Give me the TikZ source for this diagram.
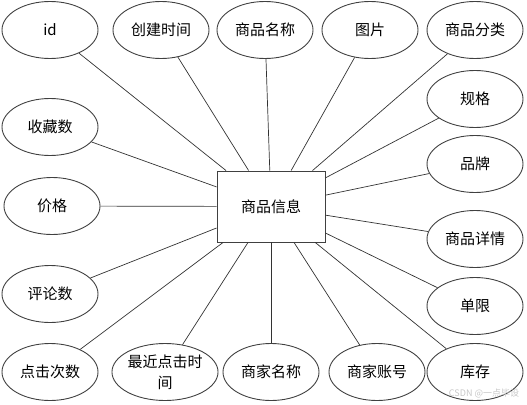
\documentclass[tikz,border=0pt]{standalone}
\usepackage{fontspec}
\setmainfont{Noto Sans CJK SC}
\usetikzlibrary{shapes.geometric}
\begin{document}
\begin{tikzpicture}[x=1pt,y=-1pt,
  attr/.style={draw=black!75,line width=0.9pt,ellipse,minimum width=96pt,minimum height=57pt,inner sep=0pt,font=\fontsize{15}{21}\selectfont,align=center},
  entity/.style={draw=black!75,line width=0.9pt,rectangle,minimum width=108pt,minimum height=71pt,inner sep=0pt,font=\fontsize{15}{17}\selectfont},
  link/.style={draw=black!80,line width=0.7pt}]
\useasboundingbox (0,0) rectangle (527,404);
\node[entity] (e) at (271,206.5) {商品信息};
\node[attr] (a1) at (50,30) {id};
\node[attr] (a2) at (161,30) {创建时间};
\node[attr] (a3) at (265,30) {商品名称};
\node[attr] (a4) at (370,30) {图片};
\node[attr] (a5) at (475,30) {商品分类};
\node[attr] (a6) at (475,99) {规格};
\node[attr] (a7) at (475,164) {品牌};
\node[attr] (a8) at (475,239) {商品详情};
\node[attr] (a9) at (475,306) {单限};
\node[attr] (a10) at (475,372) {库存};
\node[attr] (a11) at (377,372) {商家账号};
\node[attr] (a12) at (271,372) {商家名称};
\node[attr] (a13) at (165,372) {最近点击时\\间};
\node[attr] (a14) at (50,372) {点击次数};
\node[attr] (a15) at (50,294) {评论数};
\node[attr] (a16) at (52,206) {价格};
\node[attr] (a17) at (50,127) {收藏数};
\foreach \i in {1,...,17} {\draw[link] (e) -- (a\i);}
\node[text=black!22,font=\fontsize{9}{10}\selectfont,inner sep=0pt] (wm) at (484,393) {CSDN @一点毕设};
\end{tikzpicture}
\end{document}
